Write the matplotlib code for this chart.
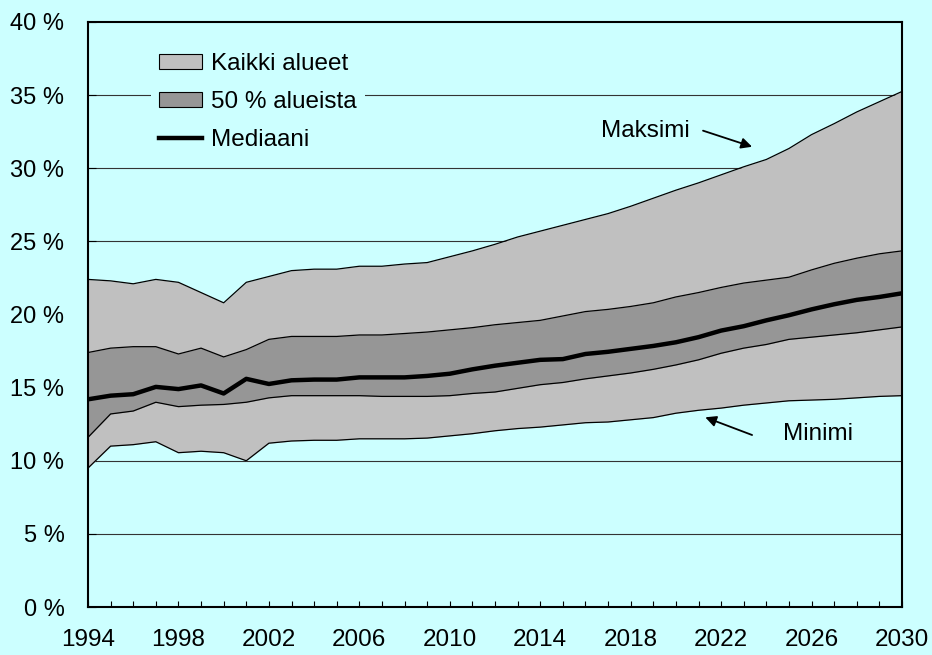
import matplotlib
matplotlib.use("Agg")
import matplotlib.pyplot as plt
from matplotlib.patches import Patch
from matplotlib.lines import Line2D
from matplotlib.ticker import MultipleLocator, FixedLocator, FuncFormatter

plt.rcParams['font.family'] = ['Liberation Sans', 'DejaVu Sans']

# Share of population by region, 1994-2030 (percent)
years = list(range(1994, 2031))
maximum = [22.4, 22.3, 22.1, 22.4, 22.2, 21.5, 20.8, 22.2, 22.6, 23.0,
           23.1, 23.1, 23.3, 23.3, 23.45, 23.55, 23.95, 24.35, 24.8, 25.3,
           25.7, 26.1, 26.5, 26.9, 27.4, 27.95, 28.5, 29.0, 29.55, 30.1,
           30.6, 31.35, 32.3, 33.05, 33.85, 34.55, 35.25]
upper_q = [17.4, 17.7, 17.8, 17.8, 17.3, 17.7, 17.1, 17.6, 18.3, 18.5,
           18.5, 18.5, 18.6, 18.6, 18.7, 18.8, 18.95, 19.1, 19.3, 19.45,
           19.6, 19.9, 20.2, 20.35, 20.55, 20.8, 21.2, 21.5, 21.85, 22.15,
           22.35, 22.55, 23.05, 23.5, 23.85, 24.15, 24.35]
median = [14.2, 14.45, 14.55, 15.05, 14.9, 15.15, 14.6, 15.6, 15.25, 15.5,
          15.55, 15.55, 15.7, 15.7, 15.7, 15.8, 15.95, 16.25, 16.5, 16.7,
          16.9, 16.95, 17.3, 17.45, 17.65, 17.85, 18.1, 18.45, 18.9, 19.2,
          19.6, 19.95, 20.35, 20.7, 21.0, 21.2, 21.45]
lower_q = [11.6, 13.2, 13.4, 14.0, 13.7, 13.8, 13.85, 14.0, 14.3, 14.45,
           14.45, 14.45, 14.45, 14.4, 14.4, 14.4, 14.45, 14.6, 14.7, 14.95,
           15.2, 15.35, 15.6, 15.8, 16.0, 16.25, 16.55, 16.9, 17.35, 17.7,
           17.95, 18.3, 18.45, 18.6, 18.75, 18.95, 19.15]
minimum = [9.5, 11.0, 11.1, 11.3, 10.55, 10.65, 10.55, 10.0, 11.2, 11.35,
           11.4, 11.4, 11.5, 11.5, 11.5, 11.55, 11.7, 11.85, 12.05, 12.2,
           12.3, 12.45, 12.6, 12.65, 12.8, 12.95, 13.25, 13.45, 13.6, 13.8,
           13.95, 14.1, 14.15, 14.2, 14.3, 14.4, 14.45]
year_labels = list(range(1994, 2031, 4))

bg = '#CCFFFF'
light = '#C0C0C0'
dark = '#969696'
fs = 17.5

fig = plt.figure(figsize=(9.32, 6.55), dpi=100, facecolor=bg)
ax = fig.add_axes([88 / 932, 1 - 607 / 655, 814 / 932, 585 / 655])
ax.set_facecolor(bg)

# horizontal grid under the bands
for g in range(5, 40, 5):
    ax.axhline(g, color='#333333', lw=0.8, zorder=1)

ax.fill_between(years, minimum, maximum, color=light, lw=0, zorder=2)
ax.fill_between(years, lower_q, upper_q, color=dark, lw=0, zorder=3)
for s in (minimum, maximum, lower_q, upper_q):
    ax.plot(years, s, color='black', lw=0.9, zorder=4)
ax.plot(years, median, color='black', lw=3.2, zorder=5)

ax.set_xlim(1994, 2030)
ax.set_ylim(0, 40)
ax.xaxis.set_major_locator(FixedLocator(year_labels))
ax.xaxis.set_minor_locator(MultipleLocator(1))
ax.yaxis.set_major_locator(MultipleLocator(5))
ax.yaxis.set_major_formatter(FuncFormatter(lambda v, p: f"{v:.0f} %"))
ax.tick_params(axis='x', which='both', direction='in', length=4, width=0.8,
               labelsize=fs, pad=16)
ax.tick_params(axis='y', which='major', direction='in', length=6, width=0.8,
               labelsize=17, pad=17)
for sp in ax.spines.values():
    sp.set_linewidth(1.5)
    sp.set_zorder(6)

handles = [Patch(facecolor=light, edgecolor='black', lw=0.8),
           Patch(facecolor=dark, edgecolor='black', lw=0.8),
           Line2D([], [], color='black', lw=3.2)]
labels = ['Kaikki alueet', '50 % alueista', 'Mediaani']
leg = ax.legend(handles, labels, loc='upper left', bbox_to_anchor=(0.062, 0.982),
                fontsize=fs, frameon=True, facecolor=bg, edgecolor='none',
                framealpha=1, fancybox=False, handlelength=1.75,
                handleheight=0.6, handletextpad=0.37, labelspacing=0.65,
                borderpad=0.35)
leg.set_zorder(7)

arrow = dict(arrowstyle='-|>', color='black', lw=1.3, mutation_scale=16,
             shrinkA=0, shrinkB=0)
ax.annotate('', xy=(2023.37, 31.47), xytext=(2021.2, 32.57), arrowprops=arrow,
            zorder=8)
ax.text(2016.7, 32.55, 'Maksimi', fontsize=fs, va='center', ha='left', zorder=8)
ax.annotate('', xy=(2021.3, 12.97), xytext=(2023.37, 11.76), arrowprops=arrow,
            zorder=8)
ax.text(2024.75, 11.8, 'Minimi', fontsize=fs, va='center', ha='left', zorder=8)

fig.savefig('out.png', dpi=100, facecolor=bg)
